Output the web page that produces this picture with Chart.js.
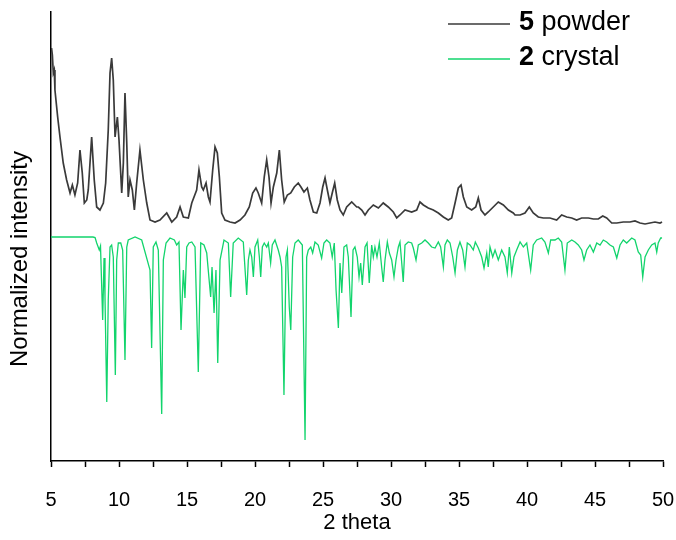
<!DOCTYPE html>
<html lang="en">
<head>
    <meta charset="UTF-8">
    <title>PXRD comparison</title>
    <script src="https://cdn.jsdelivr.net/npm/chart.js@4.4.0/dist/chart.umd.min.js"></script>
    <style>
        html, body { margin: 0; padding: 0; background: #fff; }
        #wrap { width: 676px; height: 540px; }
    </style>
</head>
<body>
    <div id="wrap"><canvas id="xrdChart" width="676" height="540"></canvas></div>

    <script>
        // 2 theta positions and intensities (arbitrary units)
        var powderTheta = [5.04, 5.10, 5.17, 5.24, 5.29, 5.49, 5.66, 5.90, 6.15, 6.40, 6.57, 6.76, 6.96, 7.13, 7.30, 7.45, 7.63, 7.74, 7.99, 8.18,
            8.36, 8.60, 8.85, 9.02, 9.21, 9.34, 9.46, 9.58, 9.71, 9.88, 10.00, 10.20, 10.32, 10.44, 10.57, 10.68, 10.81, 10.98, 11.13, 11.30,
            11.54, 11.79, 12.04, 12.28, 12.65, 13.01, 13.51, 13.88, 14.24, 14.49, 14.73, 15.10, 15.35, 15.71, 15.88, 16.08, 16.20, 16.40, 16.57, 16.69,
            16.89, 17.06, 17.23, 17.38, 17.55, 17.79, 18.16, 18.53, 18.90, 19.26, 19.58, 19.83, 20.07, 20.24, 20.49, 20.68, 20.86, 21.03, 21.18, 21.35,
            21.60, 21.79, 21.96, 22.15, 22.38, 22.63, 22.89, 23.18, 23.38, 23.60, 23.85, 24.04, 24.29, 24.54, 24.78, 24.98, 25.15, 25.32, 25.51, 25.68,
            25.86, 26.05, 26.25, 26.49, 26.74, 27.11, 27.48, 27.60, 27.85, 28.09, 28.33, 28.70, 29.07, 29.43, 29.80, 30.17, 30.42, 30.66, 31.03, 31.52,
            31.89, 32.13, 32.38, 32.74, 33.11, 33.48, 33.85, 34.21, 34.46, 34.71, 34.95, 35.15, 35.32, 35.57, 35.93, 36.23, 36.42, 36.62, 36.91, 37.15,
            37.52, 37.89, 38.26, 38.63, 38.99, 39.12, 39.49, 39.85, 40.17, 40.46, 40.83, 41.20, 41.69, 42.18, 42.55, 42.92, 43.29, 43.65, 44.02, 44.51,
            44.88, 45.24, 45.57, 45.86, 46.23, 46.60, 47.08, 47.57, 47.94, 48.31, 48.68, 49.04, 49.41, 49.78, 49.93];
        var powderIntensity = [413, 406, 388, 391, 371, 344, 324, 298, 281, 268, 276, 266, 278, 311, 288, 258, 261, 271, 324, 281,
            254, 251, 258, 278, 331, 388, 403, 381, 324, 344, 321, 268, 298, 368, 318, 264, 281, 271, 251, 278,
            311, 281, 258, 241, 239, 241, 248, 239, 244, 254, 244, 243, 258, 271, 291, 274, 271, 278, 264, 259,
            291, 314, 308, 284, 248, 241, 239, 238, 241, 246, 254, 268, 273, 268, 258, 284, 301, 284, 258, 274,
            288, 311, 281, 259, 266, 268, 274, 278, 274, 269, 273, 261, 249, 248, 258, 274, 283, 271, 258, 268,
            278, 261, 251, 246, 254, 259, 254, 254, 251, 246, 251, 256, 253, 258, 254, 249, 243, 246, 251, 249,
            251, 259, 256, 253, 251, 248, 244, 241, 243, 258, 273, 276, 264, 254, 251, 254, 263, 251, 246, 249,
            254, 259, 256, 251, 248, 246, 246, 248, 254, 248, 244, 243, 243, 241, 246, 244, 243, 241, 243, 243,
            242, 242, 245, 243, 238, 238, 239, 239, 240, 238, 237, 238, 239, 238, 239];

        // simulated pattern: peak depth below its own baseline
        var crystalTheta = [5.00, 8.09, 8.24, 8.36, 8.55, 8.64, 8.80, 8.90, 8.97, 9.10, 9.21, 9.34, 9.46, 9.58, 9.73, 9.83, 9.95, 10.13, 10.27, 10.44,
            10.57, 10.68, 11.18, 11.67, 12.28, 12.40, 12.52, 12.72, 12.89, 13.14, 13.26, 13.46, 13.75, 14.07, 14.24, 14.41, 14.56, 14.73, 14.85, 14.98,
            15.15, 15.35, 15.59, 15.83, 16.01, 16.25, 16.45, 16.74, 16.84, 16.99, 17.13, 17.26, 17.43, 17.72, 18.04, 18.21, 18.40, 18.77, 19.14, 19.39,
            19.51, 19.63, 19.76, 19.88, 20.00, 20.20, 20.32, 20.42, 20.54, 20.68, 20.86, 20.98, 21.15, 21.27, 21.47, 21.71, 21.84, 21.96, 22.13, 22.28,
            22.38, 22.52, 22.63, 22.77, 22.94, 23.18, 23.48, 23.68, 23.80, 23.92, 24.10, 24.24, 24.41, 24.65, 24.90, 25.07, 25.27, 25.51, 25.68, 25.83,
            25.96, 26.13, 26.25, 26.38, 26.54, 26.74, 26.86, 27.06, 27.21, 27.35, 27.52, 27.65, 27.77, 27.89, 28.09, 28.24, 28.40, 28.58, 28.70, 28.82,
            28.97, 29.14, 29.32, 29.43, 29.56, 29.73, 29.88, 30.05, 30.22, 30.37, 30.54, 30.66, 30.79, 30.90, 31.03, 31.27, 31.52, 31.64, 31.84, 32.01,
            32.26, 32.50, 32.74, 32.99, 33.24, 33.48, 33.65, 33.85, 33.97, 34.14, 34.34, 34.54, 34.71, 34.88, 35.07, 35.27, 35.44, 35.61, 35.81, 36.05,
            36.20, 36.42, 36.67, 36.84, 37.04, 37.15, 37.28, 37.48, 37.65, 37.89, 38.14, 38.38, 38.55, 38.70, 38.88, 39.04, 39.24, 39.49, 39.73, 39.98,
            40.27, 40.46, 40.71, 41.08, 41.32, 41.57, 41.74, 42.06, 42.30, 42.55, 42.79, 42.96, 43.29, 43.53, 43.77, 44.02, 44.19, 44.39, 44.63, 44.88,
            45.13, 45.37, 45.61, 45.86, 46.10, 46.35, 46.60, 46.84, 47.08, 47.33, 47.70, 47.94, 48.18, 48.36, 48.51, 48.68, 48.92, 49.17, 49.41, 49.54,
            49.65, 49.83, 49.93];
        var crystalDepth = [0, 0, 0.5, 6, 13, 9, 83, 21, 60, 165, 63, 10, 8, 20, 138, 23, 6, 6, 13, 123,
            10, 3, 0, 3, 33, 111, 10, 5, 13, 177, 23, 6, 1, 3, 8, 5, 93, 33, 61, 10,
            6, 5, 10, 135, 6, 8, 16, 60, 30, 76, 33, 126, 23, 3, 6, 60, 6, 1, 5, 58,
            23, 13, 20, 40, 10, 3, 20, 40, 10, 6, 10, 6, 26, 8, 3, 13, 20, 30, 158, 20,
            13, 70, 93, 20, 6, 3, 8, 203, 20, 13, 10, 16, 5, 8, 21, 6, 3, 6, 20, 6,
            53, 91, 26, 56, 10, 8, 20, 80, 13, 10, 20, 40, 26, 48, 10, 6, 46, 8, 20, 10,
            20, 6, 31, 45, 23, 5, 16, 23, 40, 23, 10, 5, 26, 45, 8, 5, 6, 11, 23, 8,
            6, 3, 6, 10, 11, 5, 10, 30, 8, 3, 6, 20, 36, 13, 5, 13, 30, 6, 8, 13,
            5, 11, 20, 31, 16, 30, 10, 20, 13, 23, 13, 20, 36, 10, 36, 20, 13, 5, 10, 6,
            33, 8, 3, 1, 5, 16, 3, 3, 1, 5, 33, 6, 3, 5, 8, 13, 23, 13, 8, 15,
            6, 8, 3, 5, 8, 10, 21, 8, 3, 6, 1, 3, 15, 18, 40, 20, 13, 8, 6, 15,
            6, 1, 1];

        var xTicks = [5, 10, 15, 20, 25, 30, 35, 40, 45, 50];
        var seriesNames = [['5', ' powder'], ['2', ' crystal']];
        var yTitle = 'Normalized intensity';
        var powderColor = '#3a3a3a';
        var crystalColor = '#12d46c';
        var crystalBase = 224;   // where the inverted pattern sits on the intensity axis

        var powderPoints = powderTheta.map(function (t, i) { return { x: t, y: powderIntensity[i] }; });
        var crystalPoints = crystalTheta.map(function (t, i) { return { x: t, y: crystalBase - crystalDepth[i] }; });

        var sans = '"Liberation Sans", Arial, sans-serif';

        // legend with a bold compound number + the y title (sits a bit low in the original)
        var extraText = {
            id: 'extraText',
            afterDraw: function (chart) {
                var ctx = chart.ctx;
                var rows = [23, 58];
                ctx.save();
                chart.data.datasets.forEach(function (ds, i) {
                    var y = rows[i];
                    ctx.strokeStyle = ds.borderColor;
                    ctx.lineWidth = 1.5;
                    ctx.beginPath();
                    ctx.moveTo(448, y + 1);
                    ctx.lineTo(510, y + 1);
                    ctx.stroke();
                    ctx.fillStyle = '#000';
                    ctx.textBaseline = 'middle';
                    ctx.font = 'bold 27px ' + sans;
                    ctx.fillText(seriesNames[i][0], 519, y);
                    var w = ctx.measureText(seriesNames[i][0]).width;
                    ctx.font = '27px ' + sans;
                    ctx.fillText(seriesNames[i][1], 519 + w, y);
                });

                ctx.translate(20, 259);
                ctx.rotate(-Math.PI / 2);
                ctx.textAlign = 'center';
                ctx.textBaseline = 'middle';
                ctx.font = '24px ' + sans;
                ctx.fillText(yTitle, 0, 0);
                ctx.restore();
            }
        };

        Chart.defaults.font.family = sans;
        Chart.defaults.color = '#000';

        var xrdChart = new Chart(document.getElementById('xrdChart'), {
            type: 'line',
            data: {
                datasets: [{
                    label: '5 powder',
                    data: powderPoints,
                    borderColor: powderColor,
                    borderWidth: 1.7,
                    pointRadius: 0,
                    tension: 0
                }, {
                    label: '2 crystal',
                    data: crystalPoints,
                    borderColor: crystalColor,
                    borderWidth: 1.3,
                    pointRadius: 0,
                    tension: 0
                }]
            },
            options: {
                responsive: false,
                animation: false,
                layout: { padding: { top: 12, right: 13, left: 0, bottom: 0 } },
                plugins: {
                    legend: { display: false },
                    tooltip: { enabled: false }
                },
                scales: {
                    x: {
                        type: 'linear',
                        min: 5,
                        max: 50,
                        afterFit: function (s) { s.height = 79; s.paddingLeft = 0; s.paddingRight = 0; },
                        afterBuildTicks: function (s) {
                            var t = [];
                            for (var i = 0; i < xTicks.length; i++) {
                                t.push({ value: xTicks[i] });
                                if (i < xTicks.length - 1) t.push({ value: (xTicks[i] + xTicks[i + 1]) / 2 });
                            }
                            s.ticks = t;
                        },
                        ticks: {
                            autoSkip: false,
                            maxRotation: 0,
                            padding: 21,
                            font: { size: 20 },
                            callback: function (v) { return xTicks.indexOf(v) >= 0 ? String(v) : ''; }
                        },
                        grid: { drawOnChartArea: false, tickLength: 6, tickColor: '#000', tickWidth: 1.5 },
                        border: { display: true, color: '#000', width: 1.5 },
                        title: { display: true, text: '2 theta', font: { size: 22 }, padding: { top: 4, bottom: 4 } }
                    },
                    y: {
                        min: 0,
                        max: 449,
                        afterFit: function (s) { s.width = 51; s.paddingTop = 0; s.paddingBottom = 0; },
                        ticks: { display: false },
                        grid: { display: false },
                        border: { display: true, color: '#000', width: 1.5 }
                    }
                }
            },
            plugins: [extraText]
        });
    </script>
</body>
</html>
